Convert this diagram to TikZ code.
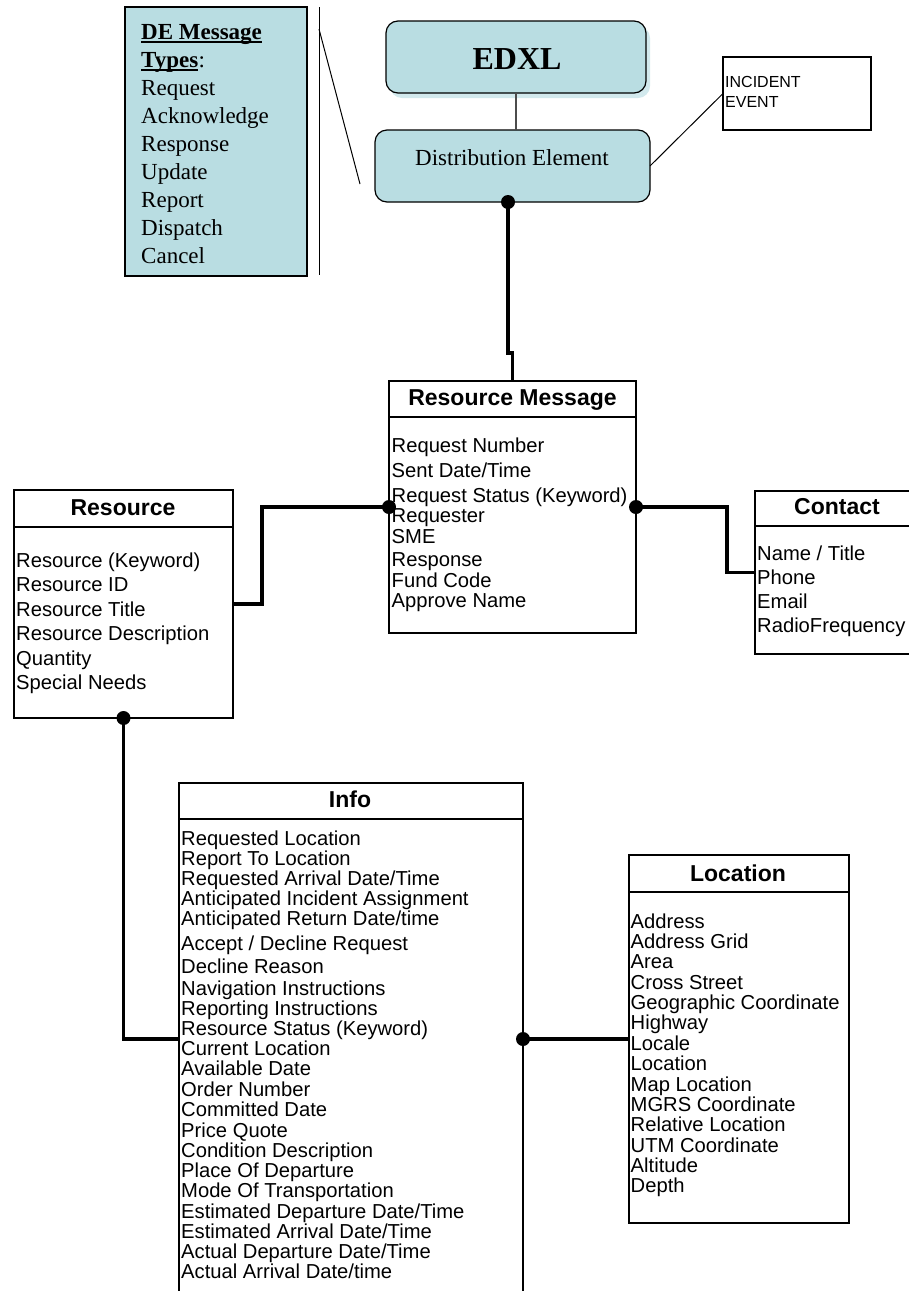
\documentclass[tikz,border=0pt]{standalone}
\usepackage{fontspec}
\setmainfont{Liberation Serif}
\newfontfamily\arialfont{Liberation Sans}
\usetikzlibrary{calc}
\definecolor{paleblue}{RGB}{185,221,226}
\definecolor{shadeblue}{RGB}{210,233,237}
\begin{document}
\begin{tikzpicture}[x=1pt, y=-1pt,
  box/.style={draw=black, line width=1.2pt, inner sep=0pt, outer sep=0pt},
  bluebox/.style={box, fill=paleblue},
  roundbox/.style={bluebox, rounded corners=12pt},
  sepline/.style={line width=1.4pt},
  item/.style={anchor=base west, inner sep=0pt, font=\arialfont\fontsize{20.2}{22}\selectfont},
  head/.style={anchor=base, inner sep=0pt, font=\arialfont\bfseries\fontsize{23}{26}\selectfont},
  serif/.style={anchor=base west, inner sep=0pt, font=\fontsize{23}{28}\selectfont},
  small/.style={anchor=base west, inner sep=0pt, font=\arialfont\fontsize{16}{18}\selectfont},
  link/.style={line width=3.5pt},
  thinlink/.style={line width=1pt},
  dot/.style={fill=black}]

\useasboundingbox (0,0) rectangle (909,1291);
\clip (0,0) rectangle (909,1291);
\fill[white] (0,0) rectangle (909,1291);

% ---------- message types panel ----------
\node[bluebox, minimum width=182pt, minimum height=269pt] (types) at (216,141.5) {};
\node[serif, font=\bfseries\fontsize{23}{28}\selectfont] (tyA) at (141,39) {DE Message};
\node[serif, font=\bfseries\fontsize{23}{28}\selectfont] (tyB) at (141,67) {Types};
\node[serif] (tyC) at (tyB.base east) {:};
\draw[line width=1.3pt] ([yshift=-3pt]tyA.base west) -- ([yshift=-3pt]tyA.base east);
\draw[line width=1.3pt] ([yshift=-3pt]tyB.base west) -- ([yshift=-3pt]tyB.base east);
\foreach \t [count=\k] in {Request, Acknowledge, Response, Update, Report, Dispatch, Cancel}
  \node[serif] (ty\k) at (141,{95+28*(\k-1)}) {\t};

\coordinate (barTop) at (319,7);
\coordinate (barBot) at (319,275);
\coordinate (slantA) at (319,29);
\coordinate (slantB) at (360,184);
\draw[thinlink] (barTop) -- (barBot);
\draw[thinlink] (slantA) -- (slantB);

% ---------- EDXL and distribution element ----------
\fill[shadeblue, rounded corners=12pt] (390,26) rectangle (650,98);
\node[roundbox, minimum width=260pt, minimum height=72pt] (edxl) at (516,57) {};
\node[anchor=base, inner sep=0pt, font=\bfseries\fontsize{32}{36}\selectfont] (edxlT) at (517,69) {EDXL};

\node[roundbox, minimum width=275pt, minimum height=72pt] (de) at (512.5,166) {};
\node[anchor=base, inner sep=0pt, font=\fontsize{23}{28}\selectfont] (deT) at (512,165) {Distribution Element};

\draw[line width=1.3pt, black!70] (edxl.south) -- (edxl.south |- de.north);

\node[box, minimum width=148pt, minimum height=73pt] (inc) at (797,93.5) {};
\node[small] (incA) at (725,87) {INCIDENT};
\node[small] (incB) at (725,107) {EVENT};
\draw[thinlink] (de.east) -- (inc.west);

% ---------- resource message ----------
\node[box, minimum width=247pt, minimum height=252pt] (rm) at (512.5,507) {};
\draw[sepline] ([yshift=-36pt]rm.north west) -- ([yshift=-36pt]rm.north east);
\node[head] (rmT) at (512.5,405) {Resource Message};
\node[item] (rm1) at (391.5,452) {Request Number};
\node[item] (rm2) at (391.5,477) {Sent Date/Time};
\node[item] (rm3) at (391.5,502) {Request Status (Keyword)};
\node[item] (rm4) at (391.5,522) {Requester};
\node[item] (rm5) at (391.5,543) {SME};
\node[item] (rm6) at (391.5,566) {Response};
\node[item] (rm7) at (391.5,587) {Fund Code};
\node[item] (rm8) at (391.5,607) {Approve Name};

% ---------- resource ----------
\node[box, minimum width=219pt, minimum height=228pt] (res) at (123.5,604) {};
\draw[sepline] ([yshift=-37pt]res.north west) -- ([yshift=-37pt]res.north east);
\node[head] (resT) at (123,515) {Resource};
\foreach \t [count=\k] in {Resource (Keyword), Resource ID, Resource Title, Resource Description, Quantity, Special Needs}
  \node[item] (res\k) at (16,{567+24.5*(\k-1)}) {\t};

% ---------- contact ----------
\node[box, minimum width=164pt, minimum height=163pt] (con) at (837,572.5) {};
\draw[sepline] ([yshift=-35pt]con.north west) -- ([yshift=-35pt]con.north east);
\node[head] (conT) at (837,514) {Contact};
\node[item] (con1) at (757,560) {Name / Title};
\node[item] (con2) at (757,584) {Phone};
\node[item] (con3) at (757,608) {Email};
\node[item] (con4) at (757,632) {RadioFrequency};

% ---------- info ----------
\node[box, minimum width=344pt, minimum height=512pt] (info) at (351,1039) {};
\draw[line width=2pt] ([yshift=-36pt]info.north west) -- ([yshift=-36pt]info.north east);
\node[head] (infoT) at (350,807) {Info};
\node[item] (in1) at (181,845) {Requested Location};
\node[item] (in2) at (181,865) {Report To Location};
\node[item] (in3) at (181,885) {Requested Arrival Date/Time};
\node[item] (in4) at (181,905) {Anticipated Incident Assignment};
\node[item] (in5) at (181,925) {Anticipated Return Date/time};
\node[item] (in6) at (181,950) {Accept / Decline Request};
\node[item] (in7) at (181,973) {Decline Reason};
\node[item] (in8) at (181,995) {Navigation Instructions};
\node[item] (in9) at (181,1015) {Reporting Instructions};
\node[item] (in10) at (181,1035) {Resource Status (Keyword)};
\node[item] (in11) at (181,1055) {Current Location};
\node[item] (in12) at (181,1075) {Available Date};
\node[item] (in13) at (181,1096) {Order Number};
\node[item] (in14) at (181,1116) {Committed Date};
\node[item] (in15) at (181,1137) {Price Quote};
\node[item] (in16) at (181,1157) {Condition Description};
\node[item] (in17) at (181,1177) {Place Of Departure};
\node[item] (in18) at (181,1197) {Mode Of Transportation};
\node[item] (in19) at (181,1218) {Estimated Departure Date/Time};
\node[item] (in20) at (181,1238) {Estimated Arrival Date/Time};
\node[item] (in21) at (181,1258) {Actual Departure Date/Time};
\node[item] (in22) at (181,1278) {Actual Arrival Date/time};

% ---------- location ----------
\node[box, minimum width=220pt, minimum height=368pt] (loc) at (739,1039) {};
\draw[sepline] ([yshift=-37pt]loc.north west) -- ([yshift=-37pt]loc.north east);
\node[head] (locT) at (738,881) {Location};
\foreach \t [count=\k] in {Address, Address Grid, Area, Cross Street, Geographic Coordinate, Highway, Locale, Location, Map Location, MGRS Coordinate, Relative Location, UTM Coordinate, Altitude, Depth}
  \node[item] (loc\k) at (630.5,{928+20.38*(\k-1)}) {\t};

% ---------- connectors ----------
\draw[link] ([xshift=-4.5pt]de.south) -- ++(0,151) -| (rm.north);
\fill[dot] ([xshift=-4.5pt]de.south) circle (7pt);

\draw[link] (res.east) -- ++(29,0) |- (rm.west);
\fill[dot] (rm.west) circle (7pt);

\draw[link] (rm.east) -- ++(91,0) |- (con.west);
\fill[dot] (rm.east) circle (7pt);

\draw[link] (res.south) |- (info.west);
\fill[dot] (res.south) circle (7pt);

\draw[link] (info.east) -- (loc.west);
\fill[dot] (info.east) circle (7pt);
\end{tikzpicture}
\end{document}
